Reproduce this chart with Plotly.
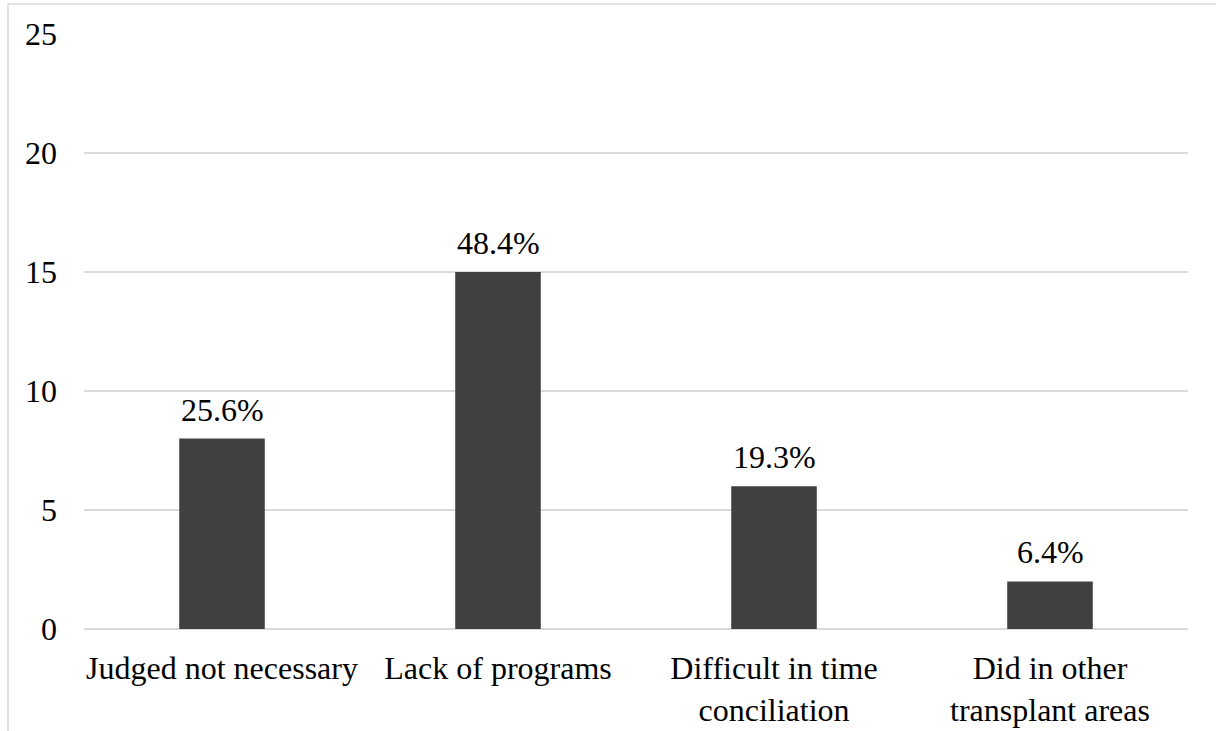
import plotly.graph_objects as go

categories = ["Judged not necessary", "Lack of programs",
              "Difficult in time<br>conciliation", "Did in other<br>transplant areas"]
counts = [8, 15, 6, 2]
percent_labels = ["25.6%", "48.4%", "19.3%", "6.4%"]
y_ticks = [0, 5, 10, 15, 20, 25]

FONT = "Liberation Serif, Times New Roman, serif"
FS = 32
GRID = "#d9d9d9"

fig = go.Figure(go.Bar(
    x=categories, y=counts,
    marker=dict(color="#404040", line=dict(width=0)),
    width=0.31,
))

for cat, val, lab in zip(categories, counts, percent_labels):
    fig.add_annotation(x=cat, y=val, text=lab, showarrow=False,
                       yanchor="bottom", yshift=9,
                       font=dict(family=FONT, size=FS, color="#000000"))

# light outer frame around the chart
W, H = 1216, 731
L, R, T, B = 84, 28, 34, 102
pw, ph = W - L - R, H - T - B
fig.add_shape(type="rect", xref="paper", yref="paper",
              x0=(8 - L) / pw, x1=(W + 4 - L) / pw,
              y0=-(B + 4) / ph, y1=(H - B - 4) / ph,
              line=dict(color=GRID, width=1.5), layer="below")

fig.update_layout(
    width=W, height=H,
    margin=dict(l=L, r=R, t=T, b=B),
    plot_bgcolor="white", paper_bgcolor="white",
    showlegend=False,
    font=dict(family=FONT, size=FS, color="#000000"),
)
fig.update_xaxes(showline=False, ticks="", showgrid=False, automargin=False,
                 ticklabelstandoff=17,
                 tickfont=dict(family=FONT, size=FS))
fig.update_yaxes(range=[0, 25], tickvals=y_ticks, showgrid=True, automargin=False,
                 gridcolor=GRID, gridwidth=1.5, zeroline=True,
                 zerolinecolor=GRID, zerolinewidth=1.5, showline=False,
                 ticks="", ticklabelstandoff=26,
                 tickfont=dict(family=FONT, size=FS))

fig.write_html("out.html")
